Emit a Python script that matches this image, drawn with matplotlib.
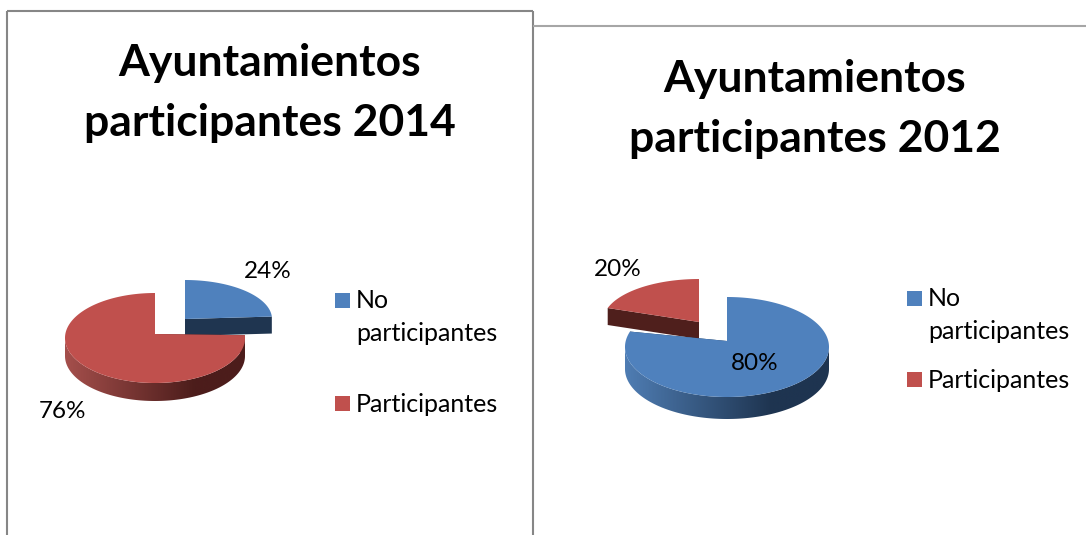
import numpy as np
import matplotlib
matplotlib.use("Agg")
import matplotlib.pyplot as plt
from matplotlib.colors import to_rgb
from matplotlib.patches import Rectangle, Polygon

# ---- data ----
categories = ["No\nparticipantes", "Participantes"]
titles = ["Ayuntamientos\nparticipantes 2014", "Ayuntamientos\nparticipantes 2012"]
values_2014 = [24, 76]
values_2012 = [80, 20]

# ---- style ----
BLUE, RED = "#4f81bd", "#c0504d"
SIDE = {BLUE: ("#4f7db3", "#1e3450"), RED: ("#a54f4c", "#4c1d1b")}
CUT = {BLUE: "#1f3550", RED: "#4f1f1c"}
FONT = "Lato"

W, H = 1086, 535
fig = plt.figure(figsize=(W / 100, H / 100), dpi=100, facecolor="white")
ax = fig.add_axes([0, 0, 1, 1])
ax.axis("off")


def slice3d(start, end, color, cx, apex_y, ell_y, rx, ry, depth, z):
    """Draw one pie slice; start/end are percent clockwise from 12 o'clock."""
    th = np.radians(np.linspace(start * 3.6, end * 3.6, 400))
    x = cx + rx * np.sin(th)
    y = ell_y - ry * np.cos(th)
    # flat cut faces
    for px, py in ((x[0], y[0]), (x[-1], y[-1])):
        ax.fill([cx, px, px, cx], [apex_y, py, py + depth, apex_y + depth],
                color=CUT[color], lw=0, zorder=z)
    # rim, shaded from left to right
    front = np.cos(th) < 0
    if front.any():
        fx, fy = x[front], y[front]
        light, dark = map(np.array, map(to_rgb, SIDE[color]))
        t = np.clip(np.linspace(0, 1, 256) / 0.72, 0, 1)[None, :, None]
        grad = light[None, None, :] + (dark - light)[None, None, :] * t
        im = ax.imshow(grad, extent=(cx - rx, cx + rx, fy.max() + depth, fy.min()),
                       aspect="auto", zorder=z, interpolation="bilinear")
        clip = Polygon(np.c_[np.r_[fx, fx[::-1]], np.r_[fy, fy[::-1] + depth]],
                       closed=True, transform=ax.transData)
        im.set_clip_path(clip)
    # top surface
    ax.fill(np.r_[cx, x], np.r_[apex_y, y], color=color, lw=0, zorder=z + 1)


def pie(values, geo):
    total = sum(values)
    pct = [v / total * 100 for v in values]
    for (a, b, color, g) in geo(pct):
        slice3d(a, b, color, **g)


# ---- 2014 ----
pie(values_2014, lambda p: [
    (0, p[0], BLUE, dict(cx=185, apex_y=319, ell_y=319, rx=87, ry=39, depth=17, z=2)),
    (p[0], 100, RED, dict(cx=155, apex_y=334, ell_y=338, rx=90, ry=45, depth=18, z=4)),
])
# ---- 2012 ----
pie(values_2012, lambda p: [
    (p[0], 100, RED, dict(cx=699, apex_y=322, ell_y=321, rx=96, ry=42, depth=17, z=2)),
    (0, p[0], BLUE, dict(cx=727, apex_y=341, ell_y=347, rx=102, ry=50, depth=22, z=4)),
])

ax.set_xlim(0, W)
ax.set_ylim(H, 0)

# ---- frames ----
for xs, ys, col in (([7, 7], [H, 11], "#868686"), ([7, 533], [11, 11], "#868686"),
                    ([533, 533], [11, H], "#868686"), ([533, W], [26, 26], "#a6a6a6")):
    ax.plot(xs, ys, color=col, lw=1.5, zorder=1, solid_capstyle="butt")

# ---- titles ----
for title, tx, ty in zip(titles, (270, 815), (93, 109)):
    ax.text(tx, ty, title, family=FONT, weight="bold", fontsize=32, color="black",
            ha="center", va="center", linespacing=1.58, zorder=9)

# ---- data labels ----
labels = [(values_2014[0], 268, 272), (values_2014[1], 62, 412),
          (values_2012[1], 618, 269), (values_2012[0], 755, 364)]
for v, lx, ly in labels:
    ax.text(lx, ly, f"{v}%", family=FONT, fontsize=17.5, color="black",
            ha="center", va="center", zorder=9)

# ---- legends ----
legend_layout = [
    dict(swx=335, txt=356, rows=[(293, 341), (396, 412)]),
    dict(swx=907, txt=928, rows=[(291, 339), (372, 388)]),
]
for lay in legend_layout:
    for (sw_y, base), cat, col in zip(lay["rows"], categories, (BLUE, RED)):
        ax.add_patch(Rectangle((lay["swx"], sw_y), 15, 15, color=col, lw=0, zorder=9))
        ax.text(lay["txt"], base, cat, family=FONT, fontsize=18, color="black",
                ha="left", va="baseline", zorder=9, linespacing=1.55)

fig.savefig("out.png", dpi=100, facecolor="white")
